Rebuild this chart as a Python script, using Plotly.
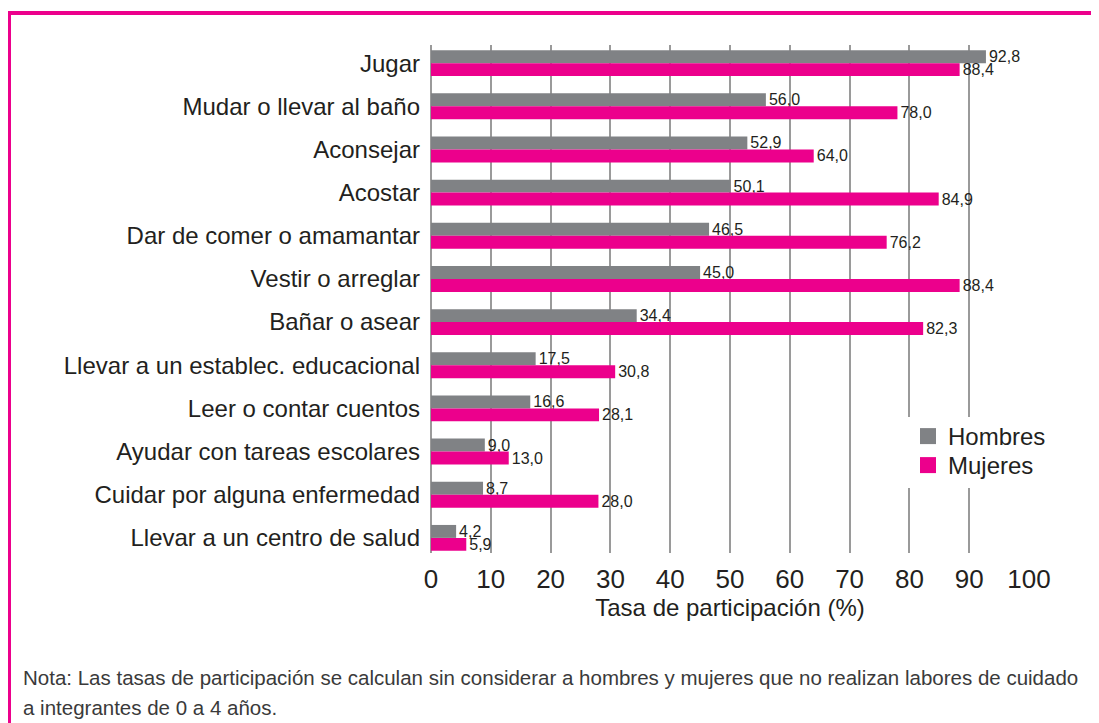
import plotly.graph_objects as go

categories = [
    "Jugar", "Mudar o llevar al baño", "Aconsejar", "Acostar",
    "Dar de comer o amamantar", "Vestir o arreglar", "Bañar o asear",
    "Llevar a un establec. educacional", "Leer o contar cuentos",
    "Ayudar con tareas escolares", "Cuidar por alguna enfermedad",
    "Llevar a un centro de salud",
]
hombres = [92.8, 56.0, 52.9, 50.1, 46.5, 45.0, 34.4, 17.5, 16.6, 9.0, 8.7, 4.2]
mujeres = [88.4, 78.0, 64.0, 84.9, 76.2, 88.4, 82.3, 30.8, 28.1, 13.0, 28.0, 5.9]
x_ticks = [0, 10, 20, 30, 40, 50, 60, 70, 80, 90, 100]

GREY = "#808285"
PINK = "#EC008C"
TEXT = "#231F20"
FONT = "Liberation Sans, Arial, sans-serif"

OFF = 8  # page body margin
W, H = 1099 - OFF, 723 - OFF
L, R, T, B = 431 - OFF, 70, 45 - OFF, 170
PW, PH = W - L - R, H - T - B

def px_x(p):
    return (p - OFF - L) / PW

def px_y(p):
    return (H - B - (p - OFF)) / PH

fig = go.Figure()
fig.add_trace(go.Bar(
    y=categories, x=hombres, name="Hombres", orientation="h",
    marker=dict(color=GREY, line=dict(width=0)), showlegend=False,
    texttemplate="%{x:.1f}", textposition="outside", constraintext="none",
    textfont=dict(size=16, color=TEXT, family=FONT), cliponaxis=False,
))
fig.add_trace(go.Bar(
    y=categories, x=mujeres, name="Mujeres", orientation="h",
    marker=dict(color=PINK, line=dict(width=0)), showlegend=False,
    texttemplate="%{x:.1f}", textposition="outside", constraintext="none",
    textfont=dict(size=16, color=TEXT, family=FONT), cliponaxis=False,
))
# legend entries with larger square swatches, one legend each for tight spacing
for nm, col, lg in (("Hombres", GREY, "legend"), ("Mujeres", PINK, "legend2")):
    fig.add_trace(go.Scatter(
        x=[None], y=[None], mode="markers", name=nm, legend=lg,
        marker=dict(symbol="square", size=17, color=col),
    ))

legend_common = dict(
    xanchor="left", yanchor="top", bgcolor="rgba(0,0,0,0)",
    font=dict(size=24, color=TEXT, family=FONT), itemwidth=30,
)

fig.update_layout(
    width=W, height=H,
    margin=dict(l=L, r=R, t=T, b=B, autoexpand=False),
    paper_bgcolor="white", plot_bgcolor="white",
    separators=",.",
    barmode="group", bargap=0.4, bargroupgap=0,
    font=dict(family=FONT, color=TEXT),
    showlegend=True,
    legend=dict(x=px_x(908), y=px_y(414), **legend_common),
    legend2=dict(x=px_x(908), y=px_y(443), **legend_common),
    xaxis=dict(
        range=[0, 100], tickvals=x_ticks, showgrid=True, gridcolor="#9A9A9A",
        gridwidth=2, zeroline=True, zerolinecolor="#9A9A9A", zerolinewidth=2,
        showline=False, ticks="", ticklabelstandoff=8,
        tickfont=dict(size=26, color=TEXT, family=FONT),
        title=dict(text="Tasa de participación (%)", standoff=6,
                   font=dict(size=24, color=TEXT, family=FONT)),
    ),
    yaxis=dict(
        categoryorder="array", categoryarray=categories,
        range=[11.35, -0.42], showgrid=False, zeroline=False, showline=False,
        ticks="", ticklabelstandoff=10,
        tickfont=dict(size=24, color=TEXT, family=FONT),
    ),
    shapes=[
        # white box behind the legend (interrupts gridlines)
        dict(type="rect", xref="paper", yref="paper", layer="above",
             x0=px_x(907), x1=px_x(1062), y0=px_y(488), y1=px_y(417),
             fillcolor="white", line=dict(width=0)),
        dict(type="line", xref="paper", yref="paper",
             x0=px_x(7), x1=px_x(1099), y0=px_y(13), y1=px_y(13),
             line=dict(color=PINK, width=4)),
        dict(type="line", xref="paper", yref="paper",
             x0=px_x(9.5), x1=px_x(9.5), y0=px_y(11), y1=px_y(723),
             line=dict(color=PINK, width=3)),
    ],
    annotations=[
        dict(xref="paper", yref="paper", x=px_x(21), y=px_y(677),
             xanchor="left", yanchor="middle", showarrow=False, align="left",
             text="Nota: Las tasas de participación se calculan sin considerar a hombres y mujeres que no realizan labores de cuidado",
             font=dict(size=20.5, color="#3A3A3A", family=FONT)),
        dict(xref="paper", yref="paper", x=px_x(21), y=px_y(707),
             xanchor="left", yanchor="middle", showarrow=False, align="left",
             text="a integrantes de 0 a 4 años.",
             font=dict(size=20.5, color="#3A3A3A", family=FONT)),
    ],
)

fig.write_html("out.html")
